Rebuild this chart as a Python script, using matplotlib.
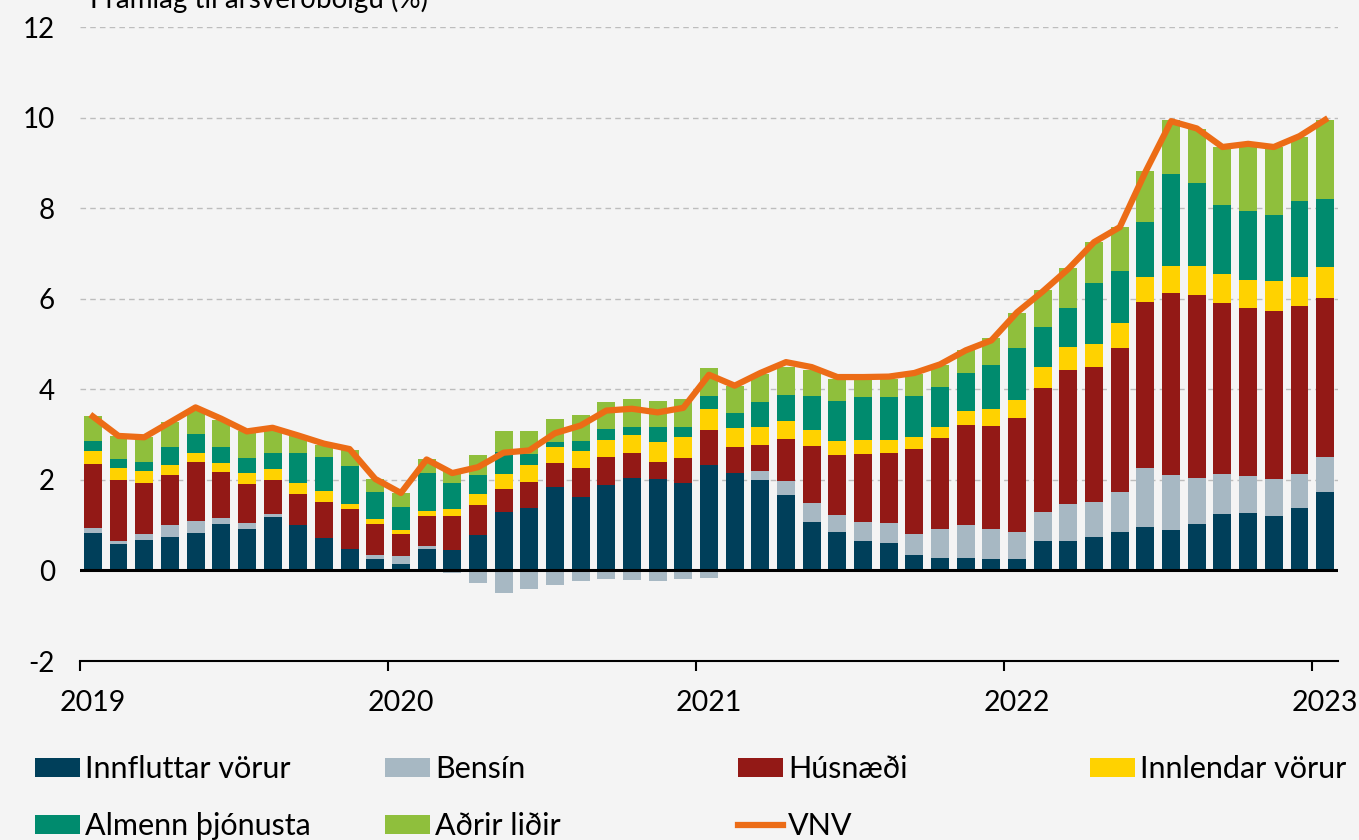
import numpy as np
import matplotlib.pyplot as plt
from matplotlib.patches import Patch
from matplotlib.lines import Line2D

# Framlag til ársverðbólgu, mánaðarlega jan 2019 - jan 2023 (prósentustig)
ar = ['2019', '2020', '2021', '2022', '2023']

innfluttar = [0.83, 0.59, 0.68, 0.73, 0.83, 1.03, 0.91, 1.18, 1.00, 0.71, 0.48, 0.25,
              0.15, 0.47, 0.46, 0.78, 1.30, 1.38, 1.85, 1.63, 1.88, 2.05, 2.01, 1.93,
              2.32, 2.15, 2.00, 1.66, 1.08, 0.84, 0.64, 0.61, 0.33, 0.28, 0.28, 0.26,
              0.26, 0.66, 0.66, 0.73, 0.84, 0.96, 0.89, 1.02, 1.24, 1.27, 1.21, 1.37,
              1.74]
bensin = [0.10, 0.06, 0.13, 0.28, 0.27, 0.12, 0.14, 0.07, 0.00, 0.00, 0.00, 0.10,
          0.17, 0.08, -0.05, -0.27, -0.49, -0.42, -0.32, -0.24, -0.20, -0.22, -0.24, -0.20,
          -0.16, 0.00, 0.20, 0.32, 0.40, 0.39, 0.43, 0.44, 0.48, 0.64, 0.73, 0.66,
          0.59, 0.64, 0.81, 0.77, 0.89, 1.30, 1.22, 1.02, 0.90, 0.82, 0.80, 0.77,
          0.77]
husnaedi = [1.42, 1.35, 1.12, 1.09, 1.30, 1.03, 0.86, 0.75, 0.68, 0.79, 0.87, 0.67,
            0.48, 0.66, 0.75, 0.66, 0.50, 0.57, 0.53, 0.64, 0.62, 0.55, 0.39, 0.55,
            0.78, 0.57, 0.57, 0.93, 1.27, 1.32, 1.51, 1.55, 1.87, 2.01, 2.21, 2.27,
            2.52, 2.72, 2.95, 2.99, 3.18, 3.66, 4.01, 4.05, 3.76, 3.70, 3.71, 3.69,
            3.51]
innlendar = [0.28, 0.27, 0.27, 0.22, 0.20, 0.19, 0.24, 0.24, 0.25, 0.25, 0.12, 0.11,
             0.10, 0.11, 0.14, 0.25, 0.34, 0.37, 0.34, 0.36, 0.37, 0.40, 0.43, 0.47,
             0.47, 0.43, 0.40, 0.39, 0.35, 0.30, 0.30, 0.28, 0.26, 0.23, 0.30, 0.38,
             0.40, 0.47, 0.52, 0.51, 0.55, 0.57, 0.60, 0.63, 0.65, 0.62, 0.67, 0.64,
             0.67]
thjonusta = [0.22, 0.18, 0.20, 0.40, 0.42, 0.35, 0.33, 0.36, 0.67, 0.75, 0.83, 0.60,
             0.51, 0.83, 0.58, 0.41, 0.47, 0.26, 0.11, 0.22, 0.25, 0.17, 0.34, 0.22,
             0.28, 0.32, 0.56, 0.58, 0.76, 0.90, 0.95, 0.95, 0.91, 0.89, 0.83, 0.96,
             1.15, 0.88, 0.86, 1.34, 1.15, 1.20, 2.03, 1.83, 1.52, 1.53, 1.45, 1.68,
             1.52]
adrir = [0.55, 0.52, 0.54, 0.55, 0.51, 0.61, 0.59, 0.49, 0.38, 0.28, 0.35, 0.29,
         0.29, 0.30, 0.26, 0.45, 0.46, 0.49, 0.51, 0.59, 0.60, 0.62, 0.57, 0.62,
         0.62, 0.61, 0.61, 0.62, 0.56, 0.48, 0.40, 0.40, 0.48, 0.49, 0.51, 0.60,
         0.77, 0.82, 0.87, 0.91, 0.97, 1.13, 1.19, 1.19, 1.27, 1.48, 1.51, 1.42,
         1.73]
vnv = [3.40, 2.97, 2.94, 3.27, 3.60, 3.35, 3.07, 3.15, 2.98, 2.80, 2.68, 2.02,
       1.71, 2.45, 2.15, 2.28, 2.60, 2.65, 3.03, 3.20, 3.53, 3.57, 3.49, 3.59,
       4.32, 4.08, 4.36, 4.60, 4.49, 4.27, 4.27, 4.28, 4.36, 4.55, 4.86, 5.08,
       5.70, 6.16, 6.66, 7.25, 7.58, 8.80, 9.92, 9.76, 9.35, 9.42, 9.35, 9.59,
       9.95]

bakgrunnur = '#f4f4f4'
plt.rcParams['font.family'] = ['Lato', 'DejaVu Sans']

fig = plt.figure(figsize=(13.59, 8.4), dpi=100, facecolor=bakgrunnur)
ax = fig.add_axes([80 / 1359, 1 - 661 / 840, 1258 / 1359, 634 / 840])
ax.set_facecolor(bakgrunnur)

flokkar = [
    (innfluttar, '#003f5a', 'Innfluttar vörur'),
    (bensin, '#a7b8c3', 'Bensín'),
    (husnaedi, '#931916', 'Húsnæði'),
    (innlendar, '#ffd200', 'Innlendar vörur'),
    (thjonusta, '#008b6e', 'Almenn þjónusta'),
    (adrir, '#8fbf3c', 'Aðrir liðir'),
]

x = np.arange(len(vnv)) + 0.5
upp = np.zeros(len(vnv))
nidur = np.zeros(len(vnv))
handfong = {}
for gildi, litur, nafn in flokkar:
    gildi = np.array(gildi)
    botn = np.where(gildi >= 0, upp, nidur)
    ax.bar(x, gildi, 0.7, bottom=botn, color=litur, zorder=2)
    upp += np.clip(gildi, 0, None)
    nidur += np.clip(gildi, None, 0)
    handfong[nafn] = Patch(facecolor=litur)

ax.plot(x, vnv, color='#ec6c16', lw=4.5, zorder=4)
handfong['VNV'] = Line2D([], [], color='#ec6c16', lw=4.5)

for v in range(2, 13, 2):
    ax.axhline(v, color='#bdbdbd', lw=1, ls=(0, (4, 3)), zorder=1)
ax.axhline(0, color='black', lw=2.2, zorder=3)

ax.set_xlim(0, 49)
ax.set_ylim(-2, 12)
ax.set_yticks(range(-2, 13, 2))
ax.set_yticklabels([str(v) for v in range(-2, 13, 2)])
ax.tick_params(axis='y', length=0, pad=18, labelsize=20)

ax.set_xticks([0, 12, 24, 36, 48])
ax.set_xticklabels([])
ax.set_xticks([0.5, 12.5, 24.5, 36.5, 48.5], minor=True)
ax.set_xticklabels(ar, minor=True)
ax.tick_params(axis='x', which='major', length=7, width=1.5, color='black')
ax.tick_params(axis='x', which='minor', length=0, pad=21, labelsize=20.5)

for s in ['top', 'right', 'left']:
    ax.spines[s].set_visible(False)
ax.spines['bottom'].set_color('black')
ax.spines['bottom'].set_linewidth(1.5)

fig.text(90 / 1359, 1 - 8 / 840, 'Framlag til ársverðbólgu (%)', fontsize=20,
         ha='left', va='baseline')

dalkar = [
    (35, ['Innfluttar vörur', 'Almenn þjónusta']),
    (385, ['Bensín', 'Aðrir liðir']),
    (738, ['Húsnæði', 'VNV']),
    (1090, ['Innlendar vörur']),
]
for xpx, nofn in dalkar:
    fig.legend([handfong[n] for n in nofn], nofn, loc='upper left',
               bbox_to_anchor=(xpx / 1359, 1 - 755 / 840), bbox_transform=fig.transFigure,
               frameon=False, fontsize=22, handlelength=1.47, handleheight=0.6,
               handletextpad=0.17, labelspacing=0.95, borderpad=0, borderaxespad=0)

fig.savefig('out.png', dpi=100, facecolor=bakgrunnur)
